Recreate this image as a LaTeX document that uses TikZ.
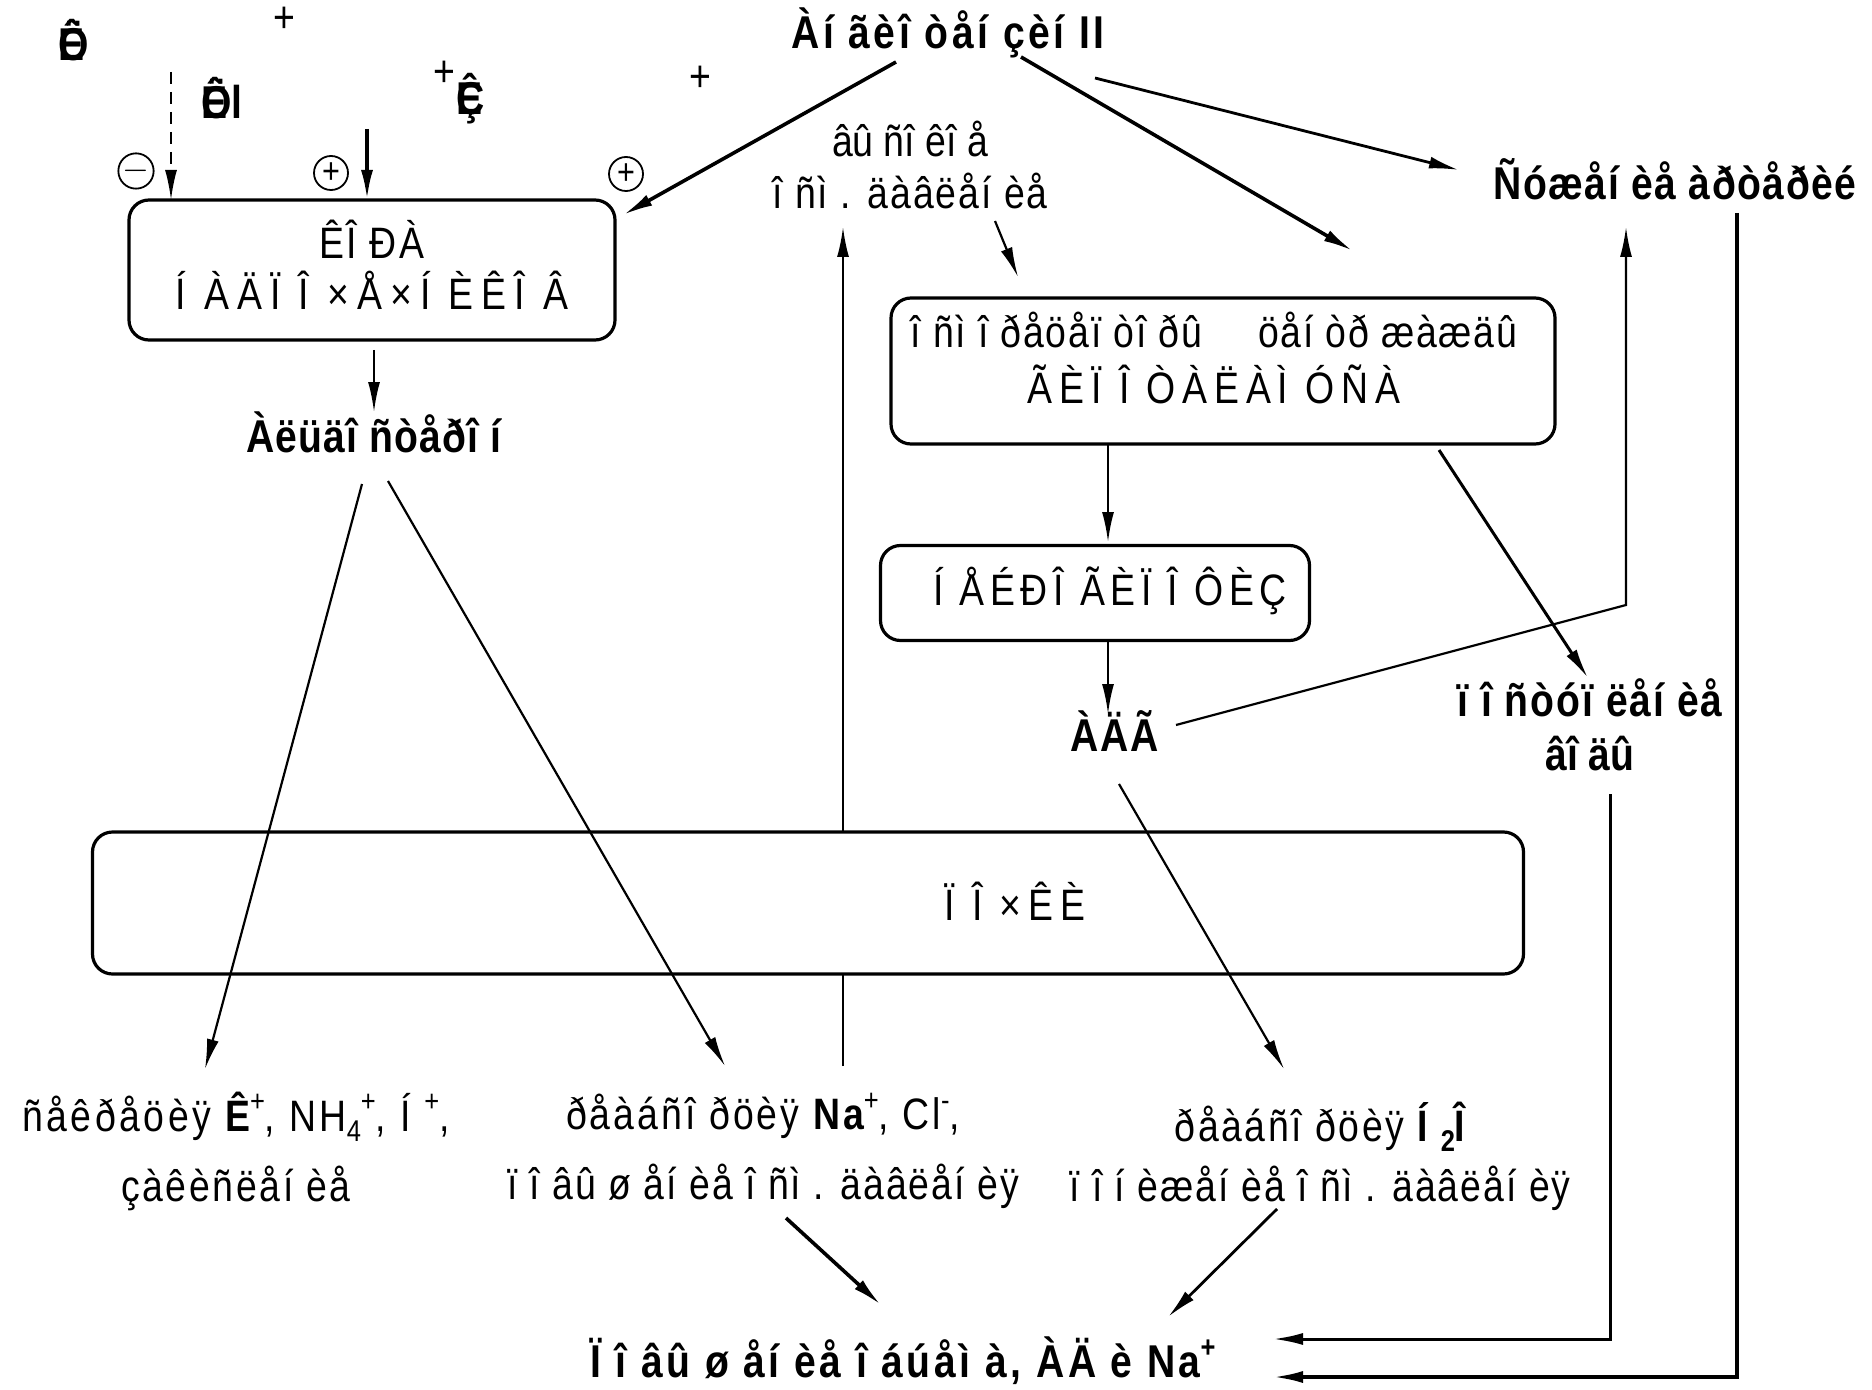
\documentclass[tikz,border=0pt]{standalone}
\usepackage{fontspec}
\setmainfont{Liberation Sans}[FakeStretch=0.85]
\usetikzlibrary{arrows.meta}
\newcommand\mysup[1]{\raisebox{0.85ex}{\fontsize{15}{15}\selectfont #1}}
\newcommand\mysub[1]{\raisebox{-0.45ex}{\fontsize{15}{15}\selectfont #1}}
\newcommand\LS[1]{\addfontfeature{LetterSpace=#1}}
\begin{document}
\begin{tikzpicture}[x=0.5pt,y=-0.5pt,
  txt/.style={font=\fontsize{22}{26}\selectfont, inner sep=0pt, align=center},
  btxt/.style={font=\fontsize{23}{26}\selectfont\bfseries, inner sep=0pt, align=center},
  box/.style={draw, line width=1.6pt, rounded corners=10pt, inner sep=0pt},
  arr/.style={-{Latex[length=15pt,width=6pt]}, line width=1.1pt},
  tarr/.style={-{Latex[length=15pt,width=6pt]}, line width=1.8pt},
  circ/.style={draw, circle, line width=0.9pt, minimum size=17pt, inner sep=0pt, font=\fontsize{18}{18}\selectfont}]
\useasboundingbox (0,0) rectangle (1872,1390);

% boxes
\node[box, minimum width=243pt, minimum height=70pt] (box1) at (372,270) {};
\node[txt, font=\fontsize{22}{25.5}\selectfont] (box1t) at (372,265) {{\LS{5}ÊÎ ÐÀ}\\{\LS{18}Í ÀÄÏ Î ×Å×Í ÈÊÎ Â}};
\node[box, minimum width=332pt, minimum height=73pt] (box2) at (1223,371) {};
\node[txt, font=\fontsize{22}{28}\selectfont] (box2t) at (1214,358) {{\LS{4}î ñì î ðåöåï òî ðû \quad öåí òð æàæäû}\\{\LS{15.5}ÃÈÏ Î ÒÀËÀÌ  ÓÑÀ}};
\node[box, minimum width=214.5pt, minimum height=47.5pt] (box3) at (1095,593) {};
\node[txt] (box3t) at (1110,591) {\LS{13}Í ÅÉÐÎ ÃÈÏ Î ÔÈÇ};
\node[box, minimum width=715.5pt, minimum height=71pt] (box4) at (808,903) {};
\node[txt] (box4t) at (1015,901) {\LS{16}Ï Î ×ÊÈ};

% texts
\node[btxt] (ang) at (948,33) {\LS{8}Àí ãèî òåí çèí  II};
\node[txt, font=\fontsize{22}{26}\selectfont] (osm) at (910,165) {âû ñî êî å\\{\LS{4.5}î ñì . äàâëåí èå}};
\node[btxt] (suz) at (1675,179) {\LS{3.3}Ñóæåí èå àðòåðèé};
\node[btxt] (ald) at (374,432) {\LS{2.5}Àëüäî ñòåðî í};
\node[btxt] (adg) at (1115,731) {\LS{4}ÀÄÃ};
\node[btxt, font=\fontsize{23}{27}\selectfont\bfseries] (water) at (1590,725) {\LS{4.3}ï î ñòóï ëåí èå\\âî äû};
\node[txt, font=\fontsize{22}{35}\selectfont] (sec) at (236,1151) {{\LS{8}ñåêðåöèÿ {\bfseries Ê}\mysup{+}, NH\mysub{4}\mysup{+}, Í \mysup{+},}\\{\LS{6}çàêèñëåí èå}};
\node[txt, font=\fontsize{22}{35}\selectfont] (rea) at (763,1151) {{\LS{7}ðåàáñî ðöèÿ {\bfseries Na}\mysup{+}, Cl\mysup{-},}\\{\LS{4.5}ï î âû ø åí èå î ñì . äàâëåí èÿ}};
\node[txt, font=\fontsize{22}{30}\selectfont] (h2o) at (1320,1156) {{\LS{6}ðåàáñî ðöèÿ {\bfseries Í \mysub{2}Î}}\\{\LS{4.5}ï î í èæåí èå î ñì . äàâëåí èÿ}};
\node[btxt] (res) at (903,1361) {\LS{8}Ï î âû ø åí èå î áúåì à, ÀÄ è Na\mysup{+}};

% top-left garbled labels
\node[btxt] (g1) at (74,40) {\rlap{Ê}Ö};
\node[txt] (p1) at (284,20) {+};
\node[btxt] (g2) at (222,98) {\rlap{Ê}Öl};
\node[txt] (p2) at (444,74) {+};
\node[btxt] (g3) at (471,99) {\rlap{Ê}Ç};
\node[txt] (p3) at (700,79) {+};

% circled signs
\node[circ] (c1) at (136,171) {$-$};
\node[circ] (c2) at (331,173) {+};
\node[circ] (c3) at (626,174) {+};

% coordinates
\coordinate (d0) at (171,72);
\coordinate (d1) at (171,200);
\coordinate (s0) at (367,129);
\coordinate (s1) at (367,200);
\coordinate (a1) at (896,62);
\coordinate (a2) at (623,215);
\coordinate (a3) at (1021,57);
\coordinate (a4) at (1353,251);
\coordinate (a5) at (1095,78);
\coordinate (a6) at (1459,170);
\coordinate (b1) at (374,350);
\coordinate (b2) at (374,412);
\coordinate (l1) at (362,484);
\coordinate (l2) at (205,1069);
\coordinate (l3) at (388,481);
\coordinate (l4) at (725,1066);
\coordinate (v1) at (843,1066);
\coordinate (v2) at (843,974);
\coordinate (v3) at (843,832);
\coordinate (v4) at (843,227);
\coordinate (o1) at (995,221);
\coordinate (o2) at (1018,277);
\coordinate (k1) at (1108,444);
\coordinate (k2) at (1108,542);
\coordinate (k3) at (1108,641);
\coordinate (k4) at (1108,714);
\coordinate (h1) at (1176,725);
\coordinate (h2) at (1626,605);
\coordinate (h3) at (1626,227);
\coordinate (w1) at (1439,450);
\coordinate (w2) at (1588,678);
\coordinate (w3) at (1610,794);
\coordinate (w4) at (1610,1339);
\coordinate (w5) at (1273,1339);
\coordinate (z1) at (1737,213);
\coordinate (z2) at (1737,1377);
\coordinate (z3) at (1273,1377);
\coordinate (m1) at (1119,784);
\coordinate (m2) at (1284,1069);
\coordinate (r1) at (786,1218);
\coordinate (r2) at (881,1305);
\coordinate (q1) at (1277,1209);
\coordinate (q2) at (1168,1317);

% connectors
\draw[arr, dashed, dash pattern=on 6pt off 4pt] (d0) -- (d1);
\draw[tarr] (s0) -- (s1);
\draw[tarr] (a1) -- (a2);
\draw[tarr] (a3) -- (a4);
\draw[arr, line width=1.4pt] (a5) -- (a6);
\draw[arr] (b1) -- (b2);
\draw[arr] (l1) -- (l2);
\draw[arr] (l3) -- (l4);
\draw[line width=1.1pt] (v1) -- (v2);
\draw[arr] (v3) -- (v4);
\draw[arr] (o1) -- (o2);
\draw[arr] (k1) -- (k2);
\draw[arr] (k3) -- (k4);
\draw[arr] (h1) -- (h2) -- (h3);
\draw[tarr, line width=1.5pt] (w1) -- (w2);
\draw[arr, line width=1.5pt] (w3) -- (w4) -- (w5);
\draw[arr, line width=1.8pt] (z1) -- (z2) -- (z3);
\draw[arr] (m1) -- (m2);
\draw[tarr] (r1) -- (r2);
\draw[arr, line width=1.4pt] (q1) -- (q2);
\end{tikzpicture}
\end{document}
